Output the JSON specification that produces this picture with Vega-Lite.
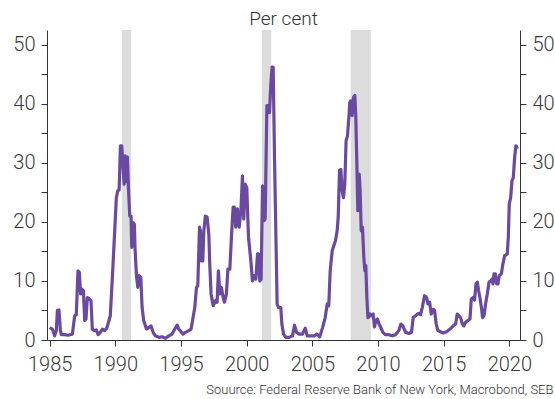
{
  "$schema": "https://vega.github.io/schema/vega-lite/v6.json",
  "width": 473,
  "height": 310,
  "autosize": {"type": "none"},
  "padding": {"left": 47, "top": 30, "right": 35, "bottom": 59},
  "background": "white",
  "config": {
    "view": {"stroke": null},
    "font": "Roboto",
    "axis": {
      "grid": false,
      "domainColor": "#333333",
      "domainWidth": 1,
      "tickColor": "#333333",
      "tickWidth": 1,
      "tickSize": 6,
      "labelFont": "Roboto",
      "labelFontSize": 20,
      "labelFontWeight": 300,
      "labelColor": "#3a3a3a"
    }
  },
  "title": {
    "text": "Per cent",
    "anchor": "middle",
    "frame": "group",
    "font": "Roboto",
    "fontSize": 19,
    "fontWeight": 300,
    "color": "#333333",
    "offset": 1
  },
  "datasets": {
    "recessions": [
      {"start": 1990.5, "end": 1991.2},
      {"start": 2001.17, "end": 2001.87},
      {"start": 2007.92, "end": 2009.45}
    ],
    "probability": [
      {"year": 1985.0, "prob": 2.1},
      {"year": 1985.21, "prob": 1.85},
      {"year": 1985.38, "prob": 0.7},
      {"year": 1985.51, "prob": 1.6},
      {"year": 1985.59, "prob": 5.0},
      {"year": 1985.71, "prob": 5.1},
      {"year": 1985.82, "prob": 1.6},
      {"year": 1985.89, "prob": 0.9},
      {"year": 1986.15, "prob": 0.9},
      {"year": 1986.4, "prob": 0.8},
      {"year": 1986.73, "prob": 1.0},
      {"year": 1986.91, "prob": 4.1},
      {"year": 1987.03, "prob": 4.3},
      {"year": 1987.16, "prob": 11.7},
      {"year": 1987.26, "prob": 11.45},
      {"year": 1987.36, "prob": 7.8},
      {"year": 1987.47, "prob": 8.6},
      {"year": 1987.57, "prob": 8.35},
      {"year": 1987.67, "prob": 3.3},
      {"year": 1987.77, "prob": 3.55},
      {"year": 1987.87, "prob": 7.2},
      {"year": 1988.05, "prob": 6.9},
      {"year": 1988.15, "prob": 6.65},
      {"year": 1988.25, "prob": 1.85},
      {"year": 1988.38, "prob": 1.6},
      {"year": 1988.56, "prob": 1.7},
      {"year": 1988.69, "prob": 0.9},
      {"year": 1988.86, "prob": 1.3},
      {"year": 1989.02, "prob": 1.85},
      {"year": 1989.19, "prob": 1.6},
      {"year": 1989.35, "prob": 2.0},
      {"year": 1989.52, "prob": 3.3},
      {"year": 1989.62, "prob": 4.1},
      {"year": 1989.83, "prob": 12.9},
      {"year": 1990.08, "prob": 24.1},
      {"year": 1990.19, "prob": 25.3},
      {"year": 1990.29, "prob": 25.4},
      {"year": 1990.39, "prob": 32.9},
      {"year": 1990.49, "prob": 32.9},
      {"year": 1990.59, "prob": 29.2},
      {"year": 1990.67, "prob": 26.4},
      {"year": 1990.75, "prob": 31.2},
      {"year": 1990.83, "prob": 26.8},
      {"year": 1990.92, "prob": 31.0},
      {"year": 1991.0, "prob": 25.8},
      {"year": 1991.1, "prob": 21.0},
      {"year": 1991.2, "prob": 21.0},
      {"year": 1991.25, "prob": 15.7},
      {"year": 1991.35, "prob": 19.9},
      {"year": 1991.45, "prob": 19.6},
      {"year": 1991.5, "prob": 15.7},
      {"year": 1991.61, "prob": 10.9},
      {"year": 1991.71, "prob": 8.9},
      {"year": 1991.81, "prob": 10.9},
      {"year": 1991.94, "prob": 10.6},
      {"year": 1992.04, "prob": 5.5},
      {"year": 1992.16, "prob": 3.3},
      {"year": 1992.37, "prob": 1.85},
      {"year": 1992.55, "prob": 2.1},
      {"year": 1992.72, "prob": 2.4},
      {"year": 1992.88, "prob": 1.3},
      {"year": 1993.05, "prob": 0.7},
      {"year": 1993.31, "prob": 0.45},
      {"year": 1993.56, "prob": 0.55},
      {"year": 1993.82, "prob": 0.3},
      {"year": 1994.07, "prob": 0.7},
      {"year": 1994.32, "prob": 1.0},
      {"year": 1994.53, "prob": 1.85},
      {"year": 1994.7, "prob": 2.5},
      {"year": 1994.83, "prob": 1.85},
      {"year": 1994.96, "prob": 1.5},
      {"year": 1995.16, "prob": 1.0},
      {"year": 1995.34, "prob": 1.3},
      {"year": 1995.59, "prob": 1.6},
      {"year": 1995.77, "prob": 1.85},
      {"year": 1995.92, "prob": 3.8},
      {"year": 1996.05, "prob": 5.5},
      {"year": 1996.18, "prob": 8.9},
      {"year": 1996.28, "prob": 9.2},
      {"year": 1996.41, "prob": 19.1},
      {"year": 1996.48, "prob": 18.5},
      {"year": 1996.56, "prob": 13.4},
      {"year": 1996.66, "prob": 13.4},
      {"year": 1996.74, "prob": 18.5},
      {"year": 1996.86, "prob": 21.0},
      {"year": 1996.99, "prob": 20.8},
      {"year": 1997.12, "prob": 17.9},
      {"year": 1997.19, "prob": 12.9},
      {"year": 1997.29, "prob": 7.8},
      {"year": 1997.45, "prob": 5.8},
      {"year": 1997.63, "prob": 6.65},
      {"year": 1997.75, "prob": 6.4},
      {"year": 1997.85, "prob": 11.7},
      {"year": 1997.96, "prob": 7.8},
      {"year": 1998.08, "prob": 8.9},
      {"year": 1998.21, "prob": 7.2},
      {"year": 1998.31, "prob": 6.4},
      {"year": 1998.46, "prob": 7.8},
      {"year": 1998.57, "prob": 12.0},
      {"year": 1998.72, "prob": 12.0},
      {"year": 1998.84, "prob": 17.4},
      {"year": 1998.97, "prob": 22.5},
      {"year": 1999.06, "prob": 22.5},
      {"year": 1999.17, "prob": 19.1},
      {"year": 1999.3, "prob": 22.2},
      {"year": 1999.43, "prob": 19.1},
      {"year": 1999.56, "prob": 21.9},
      {"year": 1999.68, "prob": 27.8},
      {"year": 1999.78, "prob": 20.5},
      {"year": 1999.89, "prob": 26.4},
      {"year": 2000.01, "prob": 25.8},
      {"year": 2000.14, "prob": 17.4},
      {"year": 2000.32, "prob": 13.4},
      {"year": 2000.44, "prob": 10.0},
      {"year": 2000.57, "prob": 10.9},
      {"year": 2000.7, "prob": 10.3},
      {"year": 2000.83, "prob": 14.6},
      {"year": 2000.9, "prob": 14.6},
      {"year": 2001.0, "prob": 10.0},
      {"year": 2001.1, "prob": 10.3},
      {"year": 2001.21, "prob": 26.1},
      {"year": 2001.31, "prob": 20.2},
      {"year": 2001.41, "prob": 20.5},
      {"year": 2001.54, "prob": 39.7},
      {"year": 2001.64, "prob": 39.7},
      {"year": 2001.74, "prob": 38.5},
      {"year": 2001.84, "prob": 43.3},
      {"year": 2001.94, "prob": 46.2},
      {"year": 2002.02, "prob": 46.2},
      {"year": 2002.12, "prob": 30.9},
      {"year": 2002.22, "prob": 18.5},
      {"year": 2002.32, "prob": 6.1},
      {"year": 2002.43, "prob": 5.5},
      {"year": 2002.6, "prob": 5.5},
      {"year": 2002.68, "prob": 2.7},
      {"year": 2002.81, "prob": 1.0},
      {"year": 2002.98, "prob": 0.45},
      {"year": 2003.24, "prob": 0.45},
      {"year": 2003.49, "prob": 0.7},
      {"year": 2003.64, "prob": 2.5},
      {"year": 2003.8, "prob": 1.3},
      {"year": 2004.0, "prob": 1.0},
      {"year": 2004.25, "prob": 1.0},
      {"year": 2004.46, "prob": 2.0},
      {"year": 2004.61, "prob": 0.7},
      {"year": 2004.89, "prob": 0.7},
      {"year": 2005.14, "prob": 0.7},
      {"year": 2005.35, "prob": 1.0},
      {"year": 2005.57, "prob": 0.55},
      {"year": 2005.78, "prob": 2.1},
      {"year": 2005.98, "prob": 3.8},
      {"year": 2006.13, "prob": 6.1},
      {"year": 2006.25, "prob": 5.8},
      {"year": 2006.36, "prob": 11.7},
      {"year": 2006.51, "prob": 15.1},
      {"year": 2006.64, "prob": 16.0},
      {"year": 2006.76, "prob": 16.8},
      {"year": 2006.89, "prob": 18.5},
      {"year": 2006.97, "prob": 20.8},
      {"year": 2007.07, "prob": 28.7},
      {"year": 2007.17, "prob": 28.9},
      {"year": 2007.27, "prob": 25.3},
      {"year": 2007.37, "prob": 24.1},
      {"year": 2007.47, "prob": 26.4},
      {"year": 2007.57, "prob": 33.7},
      {"year": 2007.68, "prob": 34.6},
      {"year": 2007.78, "prob": 37.7},
      {"year": 2007.85, "prob": 40.2},
      {"year": 2007.93, "prob": 40.5},
      {"year": 2008.03, "prob": 38.0},
      {"year": 2008.13, "prob": 41.1},
      {"year": 2008.24, "prob": 41.4},
      {"year": 2008.31, "prob": 37.7},
      {"year": 2008.39, "prob": 29.8},
      {"year": 2008.46, "prob": 21.9},
      {"year": 2008.57, "prob": 28.1},
      {"year": 2008.64, "prob": 25.3},
      {"year": 2008.72, "prob": 18.5},
      {"year": 2008.82, "prob": 19.1},
      {"year": 2008.92, "prob": 14.0},
      {"year": 2009.0, "prob": 11.7},
      {"year": 2009.07, "prob": 12.6},
      {"year": 2009.15, "prob": 7.2},
      {"year": 2009.23, "prob": 3.8},
      {"year": 2009.3, "prob": 3.9},
      {"year": 2009.4, "prob": 4.4},
      {"year": 2009.51, "prob": 4.1},
      {"year": 2009.63, "prob": 4.4},
      {"year": 2009.73, "prob": 2.2},
      {"year": 2009.84, "prob": 3.3},
      {"year": 2009.96, "prob": 3.55},
      {"year": 2010.06, "prob": 2.8},
      {"year": 2010.22, "prob": 2.1},
      {"year": 2010.37, "prob": 1.3},
      {"year": 2010.57, "prob": 0.9},
      {"year": 2010.83, "prob": 0.9},
      {"year": 2011.08, "prob": 0.7},
      {"year": 2011.33, "prob": 0.9},
      {"year": 2011.59, "prob": 1.6},
      {"year": 2011.74, "prob": 2.7},
      {"year": 2011.89, "prob": 2.4},
      {"year": 2012.1, "prob": 1.3},
      {"year": 2012.35, "prob": 1.1},
      {"year": 2012.55, "prob": 1.3},
      {"year": 2012.68, "prob": 3.8},
      {"year": 2012.86, "prob": 4.1},
      {"year": 2012.99, "prob": 4.4},
      {"year": 2013.11, "prob": 4.5},
      {"year": 2013.24, "prob": 4.3},
      {"year": 2013.37, "prob": 5.5},
      {"year": 2013.54, "prob": 7.5},
      {"year": 2013.7, "prob": 7.2},
      {"year": 2013.8, "prob": 6.1},
      {"year": 2013.93, "prob": 6.4},
      {"year": 2014.05, "prob": 4.4},
      {"year": 2014.21, "prob": 5.2},
      {"year": 2014.31, "prob": 5.0},
      {"year": 2014.43, "prob": 2.7},
      {"year": 2014.56, "prob": 1.6},
      {"year": 2014.76, "prob": 1.4},
      {"year": 2014.97, "prob": 1.2},
      {"year": 2015.22, "prob": 1.4},
      {"year": 2015.48, "prob": 1.85},
      {"year": 2015.73, "prob": 2.4},
      {"year": 2015.91, "prob": 2.7},
      {"year": 2016.03, "prob": 4.4},
      {"year": 2016.16, "prob": 4.1},
      {"year": 2016.29, "prob": 3.8},
      {"year": 2016.42, "prob": 2.7},
      {"year": 2016.54, "prob": 2.4},
      {"year": 2016.67, "prob": 3.0},
      {"year": 2016.85, "prob": 3.3},
      {"year": 2017.0, "prob": 3.55},
      {"year": 2017.1, "prob": 6.9},
      {"year": 2017.25, "prob": 7.2},
      {"year": 2017.35, "prob": 6.75},
      {"year": 2017.46, "prob": 9.5},
      {"year": 2017.56, "prob": 9.8},
      {"year": 2017.66, "prob": 8.35},
      {"year": 2017.76, "prob": 7.2},
      {"year": 2017.89, "prob": 5.2},
      {"year": 2017.96, "prob": 3.8},
      {"year": 2018.07, "prob": 4.1},
      {"year": 2018.19, "prob": 6.1},
      {"year": 2018.32, "prob": 7.8},
      {"year": 2018.45, "prob": 9.8},
      {"year": 2018.57, "prob": 10.0},
      {"year": 2018.68, "prob": 10.3},
      {"year": 2018.75, "prob": 9.5},
      {"year": 2018.83, "prob": 11.2},
      {"year": 2018.93, "prob": 11.2},
      {"year": 2019.03, "prob": 9.5},
      {"year": 2019.13, "prob": 9.5},
      {"year": 2019.23, "prob": 10.9},
      {"year": 2019.39, "prob": 11.2},
      {"year": 2019.51, "prob": 12.9},
      {"year": 2019.64, "prob": 14.3},
      {"year": 2019.74, "prob": 14.4},
      {"year": 2019.84, "prob": 14.6},
      {"year": 2019.92, "prob": 17.4},
      {"year": 2019.99, "prob": 23.0},
      {"year": 2020.1, "prob": 24.1},
      {"year": 2020.2, "prob": 27.0},
      {"year": 2020.3, "prob": 27.5},
      {"year": 2020.4, "prob": 30.9},
      {"year": 2020.5, "prob": 32.9},
      {"year": 2020.61, "prob": 32.4}
    ]
  },
  "layer": [
    {
      "data": {"name": "recessions"},
      "mark": {"type": "rect", "color": "#dcdcdd"},
      "encoding": {
        "x": {
          "field": "start",
          "type": "quantitative",
          "scale": {"domain": [1984.8, 2020.81], "nice": false, "zero": false},
          "axis": {
            "values": [1985, 1990, 1995, 2000, 2005, 2010, 2015, 2020],
            "format": "d",
            "labelPadding": 8,
            "title": "Souurce: Federal Reserve Bank of New York, Macrobond, SEB",
            "titleFont": "Roboto",
            "titleFontSize": 13,
            "titleFontWeight": 300,
            "titleColor": "#333333",
            "titleAlign": "right",
            "titleBaseline": "alphabetic",
            "titleAnchor": "end",
            "titleX": 506,
            "titleY": 53
          }
        },
        "x2": {"field": "end"},
        "y": {
          "datum": 0,
          "type": "quantitative",
          "scale": {"domain": [0, 52.5], "nice": false},
          "axis": {
            "orient": "right",
            "title": null,
            "values": [0, 5, 10, 15, 20, 25, 30, 35, 40, 45, 50],
            "labelExpr": "datum.value % 10 === 0 ? datum.label : ''",
            "labelPadding": 6
          }
        },
        "y2": {"datum": 52.5}
      }
    },
    {
      "data": {"name": "probability"},
      "mark": {"type": "line", "color": "#6a4aa0", "strokeWidth": 3.2, "strokeJoin": "round"},
      "encoding": {
        "x": {"field": "year", "type": "quantitative"},
        "y": {
          "field": "prob",
          "type": "quantitative",
          "axis": {
            "orient": "left",
            "title": null,
            "values": [0, 5, 10, 15, 20, 25, 30, 35, 40, 45, 50],
            "labelExpr": "datum.value % 10 === 0 ? datum.label : ''",
            "labelPadding": 6
          }
        }
      }
    }
  ],
  "resolve": {"scale": {"y": "shared"}, "axis": {"y": "independent"}}
}
